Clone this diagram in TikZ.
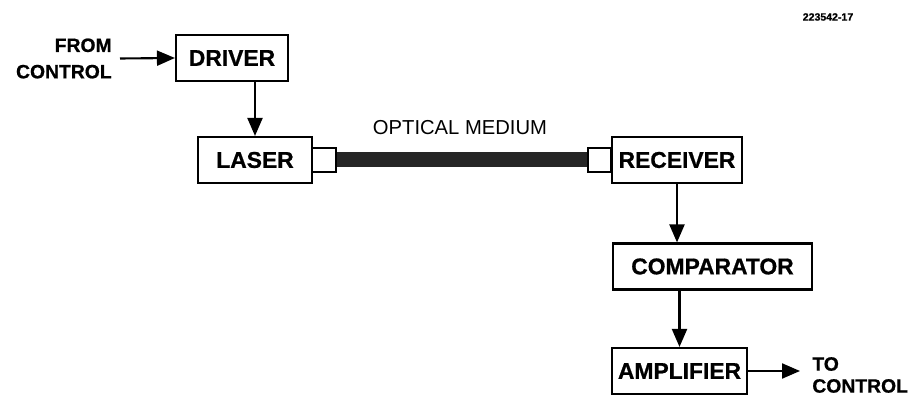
\documentclass[tikz,border=0pt]{standalone}
\usepackage{fontspec}
\setmainfont{Liberation Sans}
\newfontfamily\heavyfont{Liberation Sans}[UprightFont={* Bold}, UprightFeatures={FakeBold=0.8}]
\usepackage{tikz}
\usetikzlibrary{arrows.meta,positioning,calc}

\begin{document}
\begin{tikzpicture}[
			block/.style={draw, line width=1.2pt, minimum height=0.92cm, inner sep=0pt, font=\fontsize{13}{15}\selectfont\heavyfont},
			plug/.style={draw, line width=1.2pt, minimum width=0.47cm, minimum height=0.48cm, inner sep=0pt},
			lbl/.style={inner sep=0pt, font=\fontsize{11}{15}\selectfont\heavyfont},
			arr/.style={line width=1.2pt, -{Triangle[length=0.36cm,width=0.3cm]}}]
			\useasboundingbox (0,0) rectangle (18.22,-7.92);

			\node[block, minimum width=2.24cm] (driver) at (4.64,-1.16) {DRIVER};
			\node[block, minimum width=2.28cm] (laser) at (5.10,-3.20) {LASER};
			\node[plug] (lsq) at (6.48,-3.20) {};
			\node[plug] (rsq) at (11.99,-3.20) {};
			\node[block, minimum width=2.60cm] (receiver) at (13.54,-3.20) {RECEIVER};
			\node[block, minimum width=3.98cm] (comparator) at (14.25,-5.33) {COMPARATOR};
			\node[block, minimum width=2.70cm] (amplifier) at (13.59,-7.42) {AMPLIFIER};

			\node[lbl, align=right, anchor=east, inner xsep=0.16cm] (from) at (2.40,-1.17) {FROM\\CONTROL};
			\node[lbl, align=left, anchor=west, inner xsep=0.24cm, font=\fontsize{11}{12.5}\selectfont\heavyfont] (to) at (16.0,-7.50) {TO\\CONTROL};
			\node[font=\fontsize{11.5}{13}\selectfont] (medium) at (9.20,-2.56) {OPTICAL MEDIUM};
			\node[font=\fontsize{6}{7}\selectfont\heavyfont] (fig) at (16.56,-0.34) {223542-17};

			% fibre between the two plugs
			\draw[line width=0.30cm, black!85] (lsq.east) -- (rsq.west);

			\draw[arr] (from.east) -- (driver.west);
			\draw[arr] (driver.south -| laser.north) -- (laser.north);
			\draw[arr] (receiver.south) -- (receiver.south |- comparator.north);
			\draw[arr] (comparator.south -| amplifier.north) -- (amplifier.north);
			\draw[arr] (amplifier.east) -- (amplifier.east -| to.west);
		\end{tikzpicture}
\end{document}
